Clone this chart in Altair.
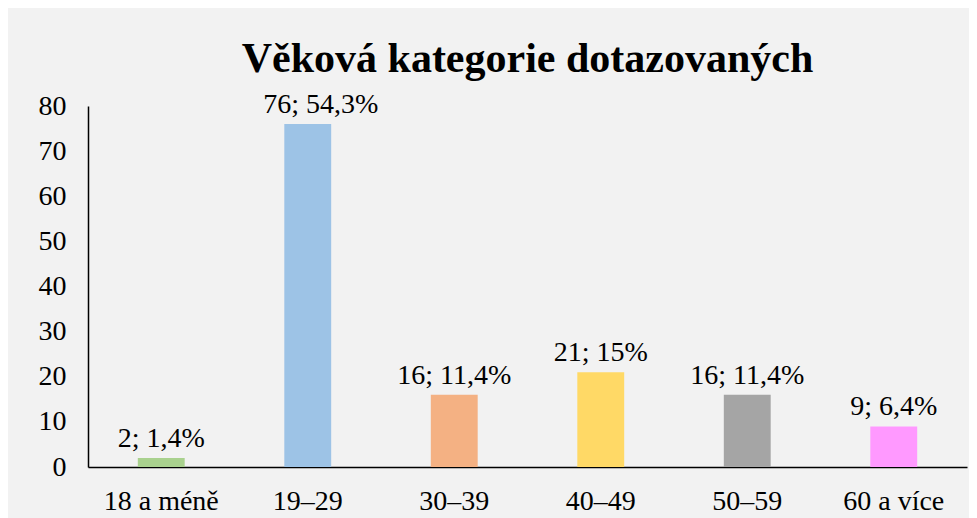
import altair as alt
import pandas as pd

categories = ["18 a méně", "19–29", "30–39", "40–49", "50–59", "60 a více"]
counts = [2, 76, 16, 21, 16, 9]
labels = ["2; 1,4%", "76; 54,3%", "16; 11,4%", "21; 15%", "16; 11,4%", "9; 6,4%"]
colors = ["#a9d18e", "#9dc3e6", "#f4b183", "#ffd966", "#a5a5a5", "#ff99ff"]

df = pd.DataFrame({"cat": categories, "count": counts, "label": labels})

FONT = "Liberation Serif, Times New Roman, serif"

x = alt.X(
    "cat:N",
    sort=categories,
    scale=alt.Scale(paddingInner=0.68, paddingOuter=0.34),
    axis=alt.Axis(
        title=None, labelAngle=0, ticks=False, labelFont=FONT, labelFontSize=28,
        labelColor="#000000", labelPadding=20, domainColor="#000000", domainWidth=1.5,
    ),
)
y = alt.Y(
    "count:Q",
    scale=alt.Scale(domain=[0, 80], nice=False),
    axis=alt.Axis(
        title=None, values=[0, 10, 20, 30, 40, 50, 60, 70, 80], ticks=False, grid=False,
        labelFont=FONT, labelFontSize=28, labelColor="#000000", labelPadding=22,
        domainColor="#000000", domainWidth=1.5,
    ),
)

bars = alt.Chart(df).mark_bar().encode(
    x=x,
    y=y,
    color=alt.Color("cat:N", sort=categories,
                    scale=alt.Scale(domain=categories, range=colors), legend=None),
)

text = alt.Chart(df).mark_text(
    font=FONT, fontSize=28, color="#000000", baseline="alphabetic", dy=-11,
    dx=alt.expr("datum.count > 70 ? 13 : 0"),
).encode(
    x=alt.X("cat:N", sort=categories),
    y=alt.Y("count:Q"),
    text="label:N",
)

chart = (
    alt.layer(bars, text)
    .properties(
        width=879,
        height=361,
        title=alt.TitleParams(
            "Věková kategorie dotazovaných",
            font=FONT, fontSize=42, fontWeight="bold", color="#000000",
            anchor="middle", offset=10,
        ),
        background="#f2f2f2",
        padding={"left": 80, "top": 98, "right": 2, "bottom": 62},
        autosize=alt.AutoSizeParams(type="none"),
    )
    .configure_view(stroke=None)
)

chart.save("out.html", embed_options={"renderer": "svg", "actions": False})
